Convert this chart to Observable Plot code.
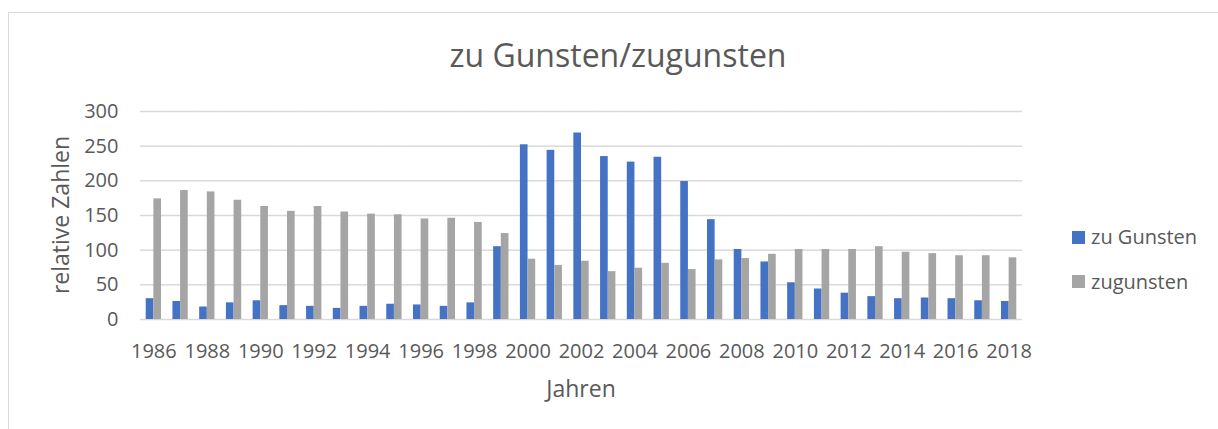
<!DOCTYPE html>
<html>
<head>
<meta charset="utf-8">
<script src="https://cdn.jsdelivr.net/npm/d3@7"></script>
<script src="https://cdn.jsdelivr.net/npm/@observablehq/plot@0.6"></script>
<style>
  html, body { margin: 0; padding: 0; background: #fff; }
  #wrap { position: relative; width: 1218px; height: 429px; overflow: hidden; font-family: 'Open Sans', sans-serif; color: #595959; }
  #frame { position: absolute; left: 8px; top: 12px; width: 1300px; height: 500px; border-left: 1.5px solid #d9d9d9; border-top: 1.5px solid #d9d9d9; }
  #chart { position: absolute; left: 0; top: 0; }
  .t { position: absolute; white-space: nowrap; line-height: 1; }
  #title { font-size: 32px; left: 0; width: 1236px; text-align: center; top: 38.6px; }
  #ytitle { font-size: 23px; width: 200px; text-align: center; left: -40.5px; top: 204px; transform: rotate(-90deg); transform-origin: 100px 11px; }
  #xtitle { font-size: 23px; width: 200px; text-align: center; left: 481px; top: 376.9px; }
  .leg { font-size: 20px; left: 1072px; display: flex; align-items: center; }
  .sw { display: inline-block; width: 13px; height: 13px; margin-right: 6px; }
</style>
</head>
<body>
<div id="wrap">
  <div id="frame"></div>
  <div id="chart"></div>
  <div id="title" class="t">zu Gunsten/zugunsten</div>
  <div id="ytitle" class="t">relative Zahlen</div>
  <div id="xtitle" class="t">Jahren</div>
  <div id="legend"></div>
</div>
<script>
const years = [1986,1987,1988,1989,1990,1991,1992,1993,1994,1995,1996,1997,1998,1999,2000,2001,2002,2003,2004,2005,2006,2007,2008,2009,2010,2011,2012,2013,2014,2015,2016,2017,2018];
const zuGunsten = [30,26,18,24,27,20,19,16,19,22,21,19,24,105,252,244,269,235,227,234,199,144,101,83,53,44,38,33,30,31,30,27,26];
const zugunsten = [174,186,184,172,163,156,163,155,152,151,145,146,140,124,87,78,84,69,74,81,72,86,88,94,101,101,101,105,97,95,92,92,89];
const seriesNames = ["zu Gunsten", "zugunsten"];
const seriesColors = ["#4472C4", "#A5A5A5"];
const yTicks = [0, 50, 100, 150, 200, 250, 300];
const yearTicks = [1986,1988,1990,1992,1994,1996,1998,2000,2002,2004,2006,2008,2010,2012,2014,2016,2018];

const data = years.flatMap((year, i) => [
  {year, series: seriesNames[0], value: zuGunsten[i]},
  {year, series: seriesNames[1], value: zugunsten[i]}
]);

const chart = Plot.plot({
  width: 1218,
  height: 429,
  marginTop: 111,
  marginBottom: 110,
  marginLeft: 140,
  marginRight: 196,
  style: {fontFamily: "'Open Sans', sans-serif", fontSize: "20px", color: "#595959", background: "transparent"},
  fx: {domain: years, padding: 0, round: false, label: null, tickSize: 0, tickPadding: 24,
       tickFormat: d => yearTicks.includes(d) ? String(d) : ""},
  x: {domain: seriesNames, paddingInner: 0, paddingOuter: 0.747, round: false, axis: null},
  y: {domain: [0, 300], ticks: yTicks, tickSize: 0, tickPadding: 22, label: null},
  color: {domain: seriesNames, range: seriesColors},
  marks: [
    Plot.gridY(yTicks, {stroke: "#d9d9d9", strokeOpacity: 1, strokeWidth: 1.5}),
    Plot.barY(data, {fx: "year", x: "series", y: "value", fill: "series"})
  ]
});
document.getElementById("chart").appendChild(chart);

const legend = document.getElementById("legend");
const legTops = [227, 271.5];
seriesNames.forEach((name, i) => {
  const row = document.createElement("div");
  row.className = "t leg";
  row.style.top = legTops[i] + "px";
  const sw = document.createElement("span");
  sw.className = "sw";
  sw.style.background = seriesColors[i];
  row.appendChild(sw);
  row.appendChild(document.createTextNode(name));
  legend.appendChild(row);
});
</script>
</body>
</html>
